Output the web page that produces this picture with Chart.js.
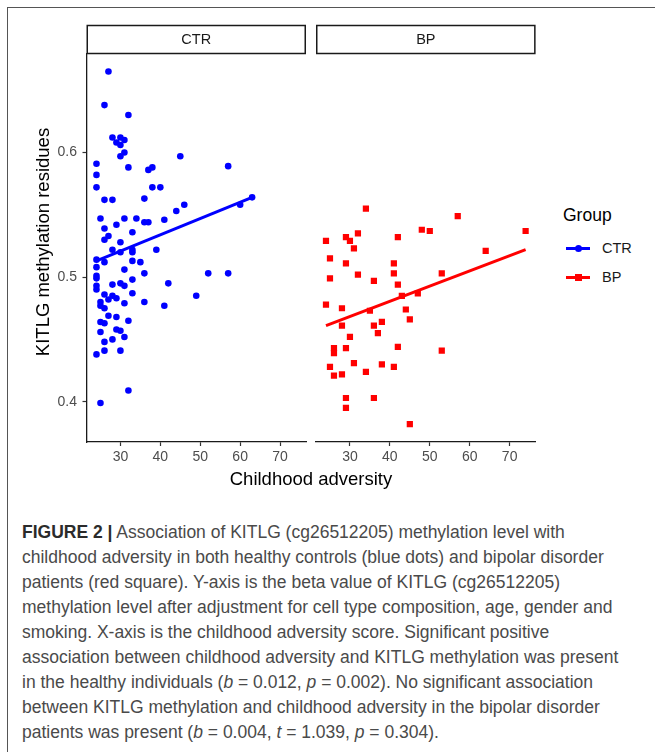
<!DOCTYPE html>
<html>
<head>
<meta charset="utf-8">
<script src="https://cdn.jsdelivr.net/npm/chart.js@4.4.1/dist/chart.umd.min.js"></script>
<style>
  body { margin: 0; background: #fff; width: 655px; height: 752px; overflow: hidden; position: relative;
         font-family: "Liberation Sans", Arial, sans-serif; }
  .frame { position: absolute; left: 7px; top: 7px; right: -5px; bottom: -5px;
           border-left: 1.5px solid #555; border-top: 1.5px solid #555; }
  canvas { position: absolute; top: 0; }
  #ctrChart { left: 0; }
  #bpChart { left: 310px; }
  .ytitle { position: absolute; left: -107px; top: 231px; width: 300px; height: 22px; line-height: 22px;
            text-align: center; font-size: 18.5px; color: #000; transform: rotate(-90deg); }
  .xtitle { position: absolute; left: 161px; top: 468px; width: 300px; line-height: 22px;
            text-align: center; font-size: 18.5px; color: #000; }
  .legend { position: absolute; left: 563px; top: 204px; }
  .lg-title { position: absolute; left: 0; top: 0; font-size: 17.5px; line-height: 22px; color: #000; white-space: nowrap; }
  .lg-item { position: absolute; left: 3px; width: 80px; height: 20px; }
  .lg-item .ln { position: absolute; left: 0; top: 9px; width: 24px; height: 2.5px; }
  .lg-item .pt { position: absolute; left: 8.5px; top: 6.7px; width: 7px; height: 7px; }
  .lg-item span { position: absolute; left: 36px; top: 0; line-height: 20px; font-size: 14.5px; color: #1a1a1a; }
  .caption { position: absolute; left: 22px; top: 520px; font-size: 17.5px; line-height: 25px; color: #4a4a4a;
             white-space: nowrap; }
  .caption b { color: #2b2b2b; }
</style>
</head>
<body>
<div class="frame"></div>
<canvas id="ctrChart" width="310" height="500"></canvas>
<canvas id="bpChart" width="230" height="500"></canvas>
<div class="ytitle">KITLG methylation residues</div>
<div class="xtitle">Childhood adversity</div>
<div class="legend">
  <div class="lg-title">Group</div>
  <div class="lg-item" style="top:34px"><div class="ln" style="background:#0000ff"></div><div class="pt" style="background:#0000ff;border-radius:50%"></div><span>CTR</span></div>
  <div class="lg-item" style="top:63px"><div class="ln" style="background:#ff0000"></div><div class="pt" style="background:#ff0000"></div><span>BP</span></div>
</div>
<div class="caption">
<b>FIGURE 2 |</b> Association of KITLG (cg26512205) methylation level with<br>
childhood adversity in both healthy controls (blue dots) and bipolar disorder<br>
patients (red square). Y-axis is the beta value of KITLG (cg26512205)<br>
methylation level after adjustment for cell type composition, age, gender and<br>
smoking. X-axis is the childhood adversity score. Significant positive<br>
association between childhood adversity and KITLG methylation was present<br>
in the healthy individuals (<i>b</i> = 0.012, <i>p</i> = 0.002). No significant association<br>
between KITLG methylation and childhood adversity in the bipolar disorder<br>
patients was present (<i>b</i> = 0.004, <i>t</i> = 1.039, <i>p</i> = 0.304).
</div>

<script>
// tick labels
const xTicks = [30, 40, 50, 60, 70];
const yTicks = [0.4, 0.5, 0.6];

// CTR group: childhood adversity vs methylation residues
const ctrX = [27,26,32,28,30,31,29,30,31,30, 45,57,24,32,37,38,24,24,38,40,
              26,28,36,63,60,46,44,25,31,34, 29,36,37,41,26,33,27,26,30,28,
              39,30,33,33,24,26,33,35,24,31, 36,52,57,24,24,33,28,30,31,42,
              24,24,26,33,49,28,27,29,25,25, 26,31,36,41,27,29,25,26,32,29,
              30,25,31,28,26,26,30,24,32,25];
const ctrY = [0.665,0.638,0.630,0.612,0.612,0.610,0.608,0.606,0.600,0.597,
              0.597,0.589,0.591,0.588,0.586,0.588,0.582,0.572,0.572,0.572,
              0.562,0.562,0.563,0.564,0.558,0.558,0.553,0.547,0.547,0.547,
              0.542,0.544,0.544,0.546,0.539,0.536,0.533,0.530,0.528,0.522,
              0.522,0.520,0.522,0.520,0.514,0.512,0.513,0.512,0.508,0.506,
              0.503,0.503,0.503,0.501,0.499,0.498,0.494,0.495,0.493,0.495,
              0.493,0.490,0.486,0.487,0.485,0.485,0.482,0.483,0.480,0.477,
              0.475,0.479,0.480,0.477,0.469,0.468,0.464,0.463,0.465,0.458,
              0.457,0.456,0.452,0.450,0.448,0.441,0.441,0.438,0.409,0.399];

// BP group
const bpX = [34,57,74,48,50,24,29,30,32,42, 31,64,25,29,41,25,32,36,41,53,
             42,43,47,24,28,35,44,45,28,36, 38,37,30,26,26,29,42,53,25,26,
             28,31,34,38,41,29,29,36,45];
const bpY = [0.555,0.549,0.537,0.538,0.537,0.529,0.532,0.529,0.535,0.532,
             0.523,0.521,0.515,0.511,0.511,0.499,0.502,0.497,0.503,0.503,
             0.494,0.485,0.487,0.478,0.475,0.473,0.474,0.466,0.461,0.461,
             0.464,0.455,0.452,0.443,0.439,0.443,0.444,0.441,0.428,0.421,
             0.422,0.431,0.424,0.430,0.428,0.403,0.395,0.403,0.382];

// fitted regression lines (end points)
const ctrFitX = [24, 63];
const ctrFitY = [0.513, 0.564];
const bpFitX = [24, 74];
const bpFitY = [0.461, 0.522];

const xMin = 21.5, xMax = 76.5;
const yMin = 0.3677, yMax = 0.679;

const toPoints = (xs, ys) => xs.map((x, i) => ({ x: x, y: ys[i] }));

// draws the facet strip box round the title
const stripBox = {
    id: 'stripBox',
    afterDraw(chart) {
        const { ctx, chartArea } = chart;
        ctx.save();
        ctx.strokeStyle = '#1a1a1a';
        ctx.lineWidth = 1.5;
        ctx.strokeRect(chartArea.left + 0.75, 25.5, chartArea.right - chartArea.left - 1.5, 28);
        ctx.restore();
    }
};

function makePanel(id, name, xs, ys, fitX, fitY, color, style, radius, showY) {
    const ctx = document.getElementById(id).getContext('2d');
    return new Chart(ctx, {
        type: 'scatter',
        data: {
            datasets: [
                {
                    type: 'line',
                    data: toPoints(fitX, fitY),
                    borderColor: color,
                    borderWidth: 3,
                    pointRadius: 0,
                    fill: false,
                    order: 0
                },
                {
                    data: toPoints(xs, ys),
                    backgroundColor: color,
                    borderColor: color,
                    borderWidth: 0,
                    pointStyle: style,
                    pointRadius: radius,
                    order: 1
                }
            ]
        },
        options: {
            responsive: false,
            animation: false,
            layout: { padding: { top: 25, right: 4, left: showY ? 0 : 6, bottom: 0 } },
            plugins: {
                legend: { display: false },
                tooltip: { enabled: false },
                title: {
                    display: true,
                    text: name,
                    fullSize: false,
                    color: '#1a1a1a',
                    font: { family: '"Liberation Sans", Arial, sans-serif', size: 14.5, weight: 'normal' },
                    padding: { top: 5.8, bottom: 5.8 }
                }
            },
            scales: {
                x: {
                    type: 'linear',
                    min: xMin,
                    max: xMax,
                    afterBuildTicks: s => { s.ticks = xTicks.map(v => ({ value: v })); },
                    afterFit: s => { s.height = 58; },
                    grid: { drawOnChartArea: false, tickLength: 4, tickColor: '#333', tickWidth: 1.2 },
                    border: { display: true, color: '#1a1a1a', width: 1.3 },
                    ticks: {
                        color: '#4d4d4d', padding: 3,
                        font: { family: '"Liberation Sans", Arial, sans-serif', size: 14 },
                        callback: v => String(v)
                    }
                },
                y: {
                    type: 'linear',
                    display: showY,
                    min: yMin,
                    max: yMax,
                    afterBuildTicks: s => { s.ticks = yTicks.map(v => ({ value: v })); },
                    afterFit: s => { s.width = showY ? 86.5 : 0; },
                    grid: { drawOnChartArea: false, tickLength: 4, tickColor: '#333', tickWidth: 1.2 },
                    border: { display: true, color: '#1a1a1a', width: 1.3 },
                    ticks: {
                        color: '#4d4d4d', padding: 5.5,
                        font: { family: '"Liberation Sans", Arial, sans-serif', size: 14 },
                        callback: v => v.toFixed(1)
                    }
                }
            }
        },
        plugins: [stripBox]
    });
}

makePanel('ctrChart', 'CTR', ctrX, ctrY, ctrFitX, ctrFitY, '#0000ff', 'circle', 3.3, true);
makePanel('bpChart', 'BP', bpX, bpY, bpFitX, bpFitY, '#ff0000', 'rect', 4.4, false);
</script>
</body>
</html>
